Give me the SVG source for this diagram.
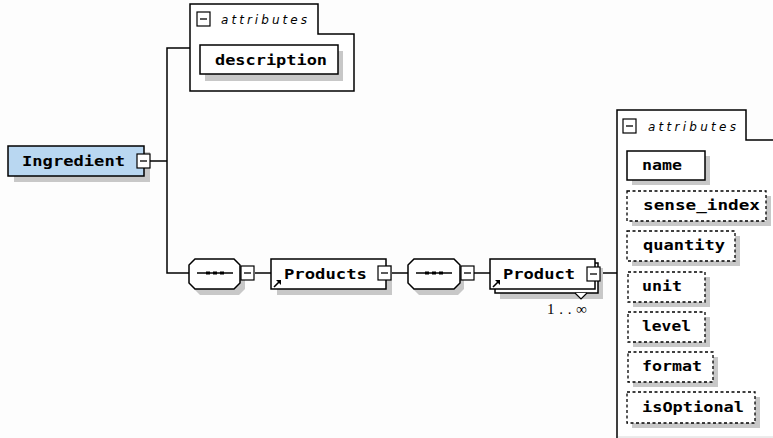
<svg xmlns="http://www.w3.org/2000/svg" width="773" height="438" viewBox="0 0 773 438">
<defs>
<style>
.box{fill:#fff;stroke:#000;stroke-width:1.5}
.dash{fill:#fff;stroke:#000;stroke-width:1.3;stroke-dasharray:3 2.5}
.sh{fill:#c8c8c8;stroke:none}
.ln{stroke:#000;stroke-width:1.5;fill:none}
.t{font-family:"DejaVu Sans Mono","Liberation Mono",monospace;font-weight:bold;font-size:14px;fill:#000}
.it{font-family:"DejaVu Sans","Liberation Sans",sans-serif;font-style:italic;font-size:12px;fill:#000}
.mult{font-family:"Liberation Serif","DejaVu Serif",serif;font-size:15px;fill:#000}
</style>
<g id="minus"><rect x="0" y="0" width="13" height="14" fill="#fff" stroke="#000" stroke-width="1.2"/><line x1="3" y1="7" x2="10" y2="7" stroke="#000" stroke-width="1.3"/></g>
<g id="refarrow"><line x1="1" y1="8" x2="7" y2="2" stroke="#000" stroke-width="1.6"/><polygon points="3,1 8,1 8,6" fill="#000"/></g>
</defs>
<rect x="0" y="0" width="773" height="438" fill="#fdfdfd"/>

<g id="connectors">
<line class="ln" x1="150" y1="161" x2="167" y2="161"/>
<path class="ln" d="M190,48 H167 V273 H189"/>
<line class="ln" x1="255" y1="273" x2="271" y2="273"/>
<line class="ln" x1="391" y1="273" x2="408" y2="273"/>
<line class="ln" x1="474" y1="273" x2="490" y2="273"/>
<line class="ln" x1="600" y1="273" x2="618" y2="273"/>
</g>

<g id="ingredient">
<rect class="sh" x="14" y="152" width="136" height="30"/>
<rect class="box" x="8" y="146" width="136" height="30" style="fill:#b9d7f1"/>
<use href="#minus" x="137" y="154"/>
<text class="t" x="22" y="166" textLength="103" lengthAdjust="spacingAndGlyphs">Ingredient</text>
</g>

<g id="attributes1">
<path class="box" d="M190,91 V4 H318 V34 H354 V91 Z"/>
<use href="#minus" x="197" y="12"/>
<text class="it" x="221" y="24" textLength="86">attributes</text>
<g id="description">
<rect class="sh" x="205" y="51" width="138" height="30"/>
<rect class="box" x="200" y="45" width="138" height="29"/>
<text class="t" x="215" y="65" textLength="112" lengthAdjust="spacingAndGlyphs">description</text>
</g>
</g>

<g id="sequence1">
<polygon class="sh" points="200,265 239,265 245,271 245,289 239,295 200,295 194,289 194,271"/>
<polygon class="box" points="195,259 234,259 240,265 240,283 234,289 195,289 189,283 189,265"/>
<line x1="197" y1="273" x2="233" y2="273" stroke="#000" stroke-width="1.3"/>
<rect x="206" y="271.5" width="4" height="3" fill="#000"/>
<rect x="213" y="271.5" width="4" height="3" fill="#000"/>
<rect x="220" y="271.5" width="4" height="3" fill="#000"/>
<use href="#minus" x="241" y="266"/>
</g>

<g id="products">
<rect class="sh" x="277" y="265" width="115" height="30"/>
<rect class="box" x="271" y="259" width="115" height="30"/>
<use href="#minus" x="378" y="266"/>
<use href="#refarrow" x="273" y="279"/>
<text class="t" x="284" y="279" textLength="83" lengthAdjust="spacingAndGlyphs">Products</text>
</g>

<g id="sequence2">
<polygon class="sh" points="419,265 458,265 464,271 464,289 458,295 419,295 413,289 413,271"/>
<polygon class="box" points="414,259 454,259 460,265 460,283 454,289 414,289 408,283 408,265"/>
<line x1="416" y1="273" x2="452" y2="273" stroke="#000" stroke-width="1.3"/>
<rect x="425" y="271.5" width="4" height="3" fill="#000"/>
<rect x="432" y="271.5" width="4" height="3" fill="#000"/>
<rect x="439" y="271.5" width="4" height="3" fill="#000"/>
<use href="#minus" x="461" y="266"/>
</g>

<g id="product">
<rect class="sh" x="500" y="268" width="103" height="31"/>
<rect class="box" x="495" y="263" width="103" height="30"/>
<rect class="box" x="490" y="259" width="105" height="30"/>
<use href="#minus" x="587" y="267"/>
<use href="#refarrow" x="492" y="279"/>
<text class="t" x="503" y="279" textLength="72" lengthAdjust="spacingAndGlyphs">Product</text>
<polyline points="575,293 581,299 587,293" fill="#fff" stroke="#000" stroke-width="1.2"/>
<text class="mult" x="547" y="314" textLength="40">1..∞</text>
</g>

<g id="attributes2">
<path class="box" d="M773,437 H617 V110 H746 V140 H773" style="stroke:none"/>
<path class="ln" d="M773,140 H746 V110 H617 V438"/>
<line x1="618" y1="437" x2="773" y2="437" stroke="#d8d8d8" stroke-width="1"/>
<use href="#minus" x="623" y="119"/>
<text class="it" x="648" y="131" textLength="88">attributes</text>
<g id="attr-name">
<rect class="sh" x="632" y="156" width="78" height="29"/>
<rect class="box" x="627" y="151" width="78" height="29"/>
<text class="t" x="642" y="170" textLength="40" lengthAdjust="spacingAndGlyphs">name</text>
</g>
<g id="attr-sense_index">
<rect class="sh" x="632" y="196" width="139" height="30"/>
<rect class="dash" x="627" y="191" width="139" height="30"/>
<text class="t" x="643" y="210" textLength="117" lengthAdjust="spacingAndGlyphs">sense_index</text>
</g>
<g id="attr-quantity">
<rect class="sh" x="632" y="236" width="108" height="30"/>
<rect class="dash" x="627" y="231" width="108" height="30"/>
<text class="t" x="643" y="250" textLength="82" lengthAdjust="spacingAndGlyphs">quantity</text>
</g>
<g id="attr-unit">
<rect class="sh" x="633" y="277" width="77" height="30"/>
<rect class="dash" x="628" y="272" width="77" height="30"/>
<text class="t" x="642" y="291" textLength="40" lengthAdjust="spacingAndGlyphs">unit</text>
</g>
<g id="attr-level">
<rect class="sh" x="633" y="317" width="77" height="30"/>
<rect class="dash" x="628" y="312" width="77" height="30"/>
<text class="t" x="642" y="331" textLength="49" lengthAdjust="spacingAndGlyphs">level</text>
</g>
<g id="attr-format">
<rect class="sh" x="633" y="357" width="85" height="30"/>
<rect class="dash" x="628" y="352" width="85" height="30"/>
<text class="t" x="642" y="371" textLength="60" lengthAdjust="spacingAndGlyphs">format</text>
</g>
<g id="attr-isOptional">
<rect class="sh" x="632" y="397" width="128" height="31"/>
<rect class="dash" x="627" y="392" width="128" height="31"/>
<text class="t" x="642" y="412" textLength="102" lengthAdjust="spacingAndGlyphs">isOptional</text>
</g>
</g>
</svg>
